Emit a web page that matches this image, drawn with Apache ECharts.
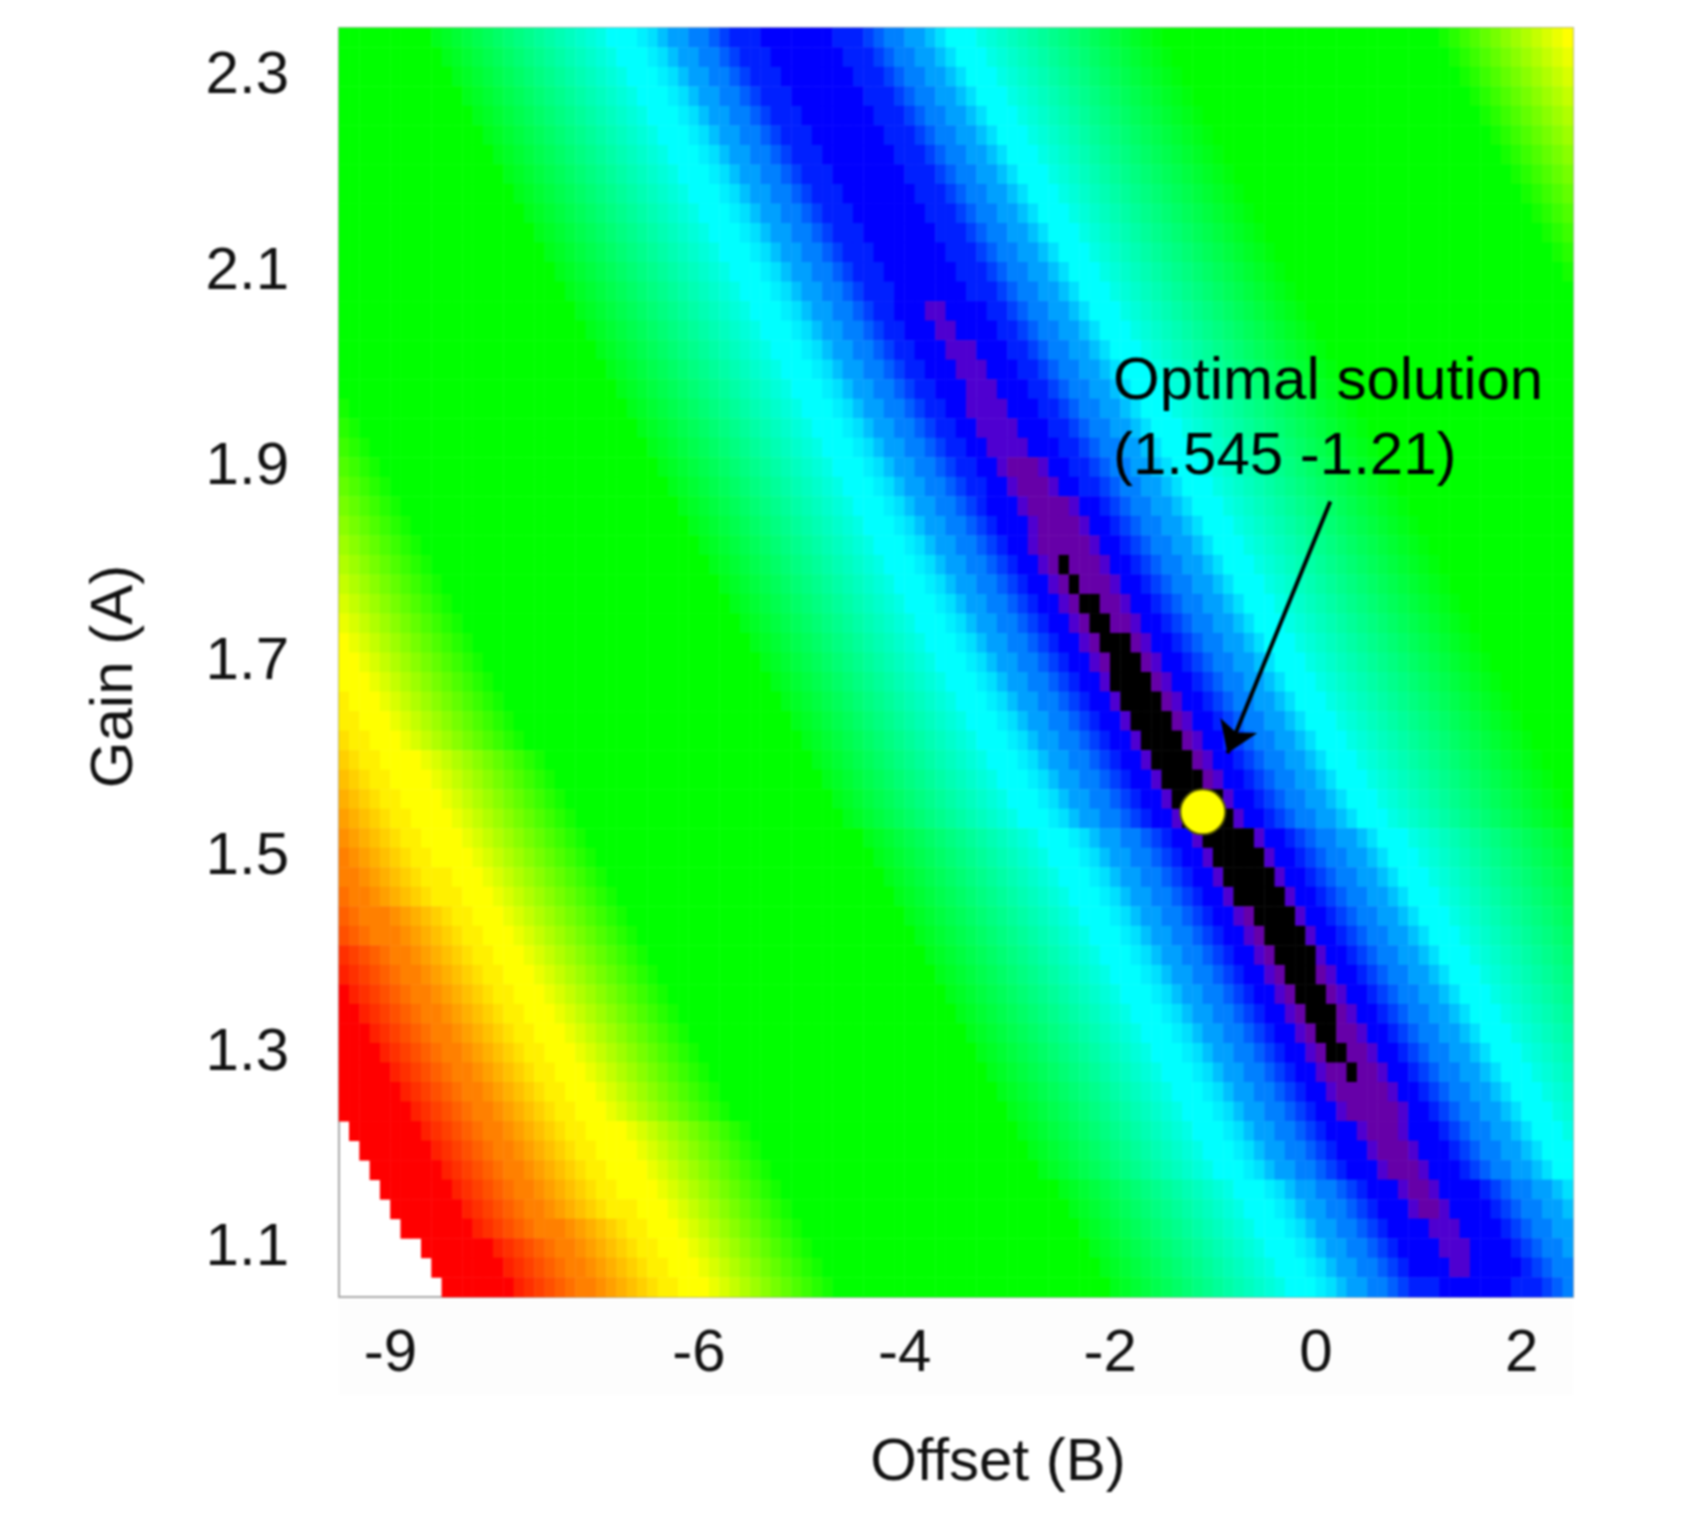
<!DOCTYPE html>
<html>
<head>
<meta charset="utf-8">
<title>Gain / Offset map</title>
<script src="https://cdn.jsdelivr.net/npm/echarts@6/dist/echarts.min.js"></script>
<style>
  html, body { margin: 0; padding: 0; background: #fff; }
  /* the source picture is a soft upscale */
  #chart { width: 1691px; height: 1534px; filter: blur(0.8px); }
</style>
</head>
<body>
<div id="chart"></div>
<script>
// tick labels
const offsetTicks = [-9, -6, -4, -2, 0, 2];
const gainTicks = [1.1, 1.3, 1.5, 1.7, 1.9, 2.1, 2.3];

// cell centres
const offsets = [
  -9.45,-9.35,-9.25,-9.15,-9.05,-8.95,-8.85,-8.75,-8.65,-8.55,-8.45,-8.35,-8.25,-8.15,-8.05,
  -7.95,-7.85,-7.75,-7.65,-7.55,-7.45,-7.35,-7.25,-7.15,-7.05,-6.95,-6.85,-6.75,-6.65,-6.55,
  -6.45,-6.35,-6.25,-6.15,-6.05,-5.95,-5.85,-5.75,-5.65,-5.55,-5.45,-5.35,-5.25,-5.15,-5.05,
  -4.95,-4.85,-4.75,-4.65,-4.55,-4.45,-4.35,-4.25,-4.15,-4.05,-3.95,-3.85,-3.75,-3.65,-3.55,
  -3.45,-3.35,-3.25,-3.15,-3.05,-2.95,-2.85,-2.75,-2.65,-2.55,-2.45,-2.35,-2.25,-2.15,-2.05,
  -1.95,-1.85,-1.75,-1.65,-1.55,-1.45,-1.35,-1.25,-1.15,-1.05,-0.95,-0.85,-0.75,-0.65,-0.55,
  -0.45,-0.35,-0.25,-0.15,-0.05,0.05,0.15,0.25,0.35,0.45,0.55,0.65,0.75,0.85,0.95,
  1.05,1.15,1.25,1.35,1.45,1.55,1.65,1.75,1.85,1.95,2.05,2.15,2.25,2.35,2.45
];
const gains = [
  2.34,2.32,2.30,2.28,2.26,2.24,2.22,2.20,2.18,2.16,2.14,2.12,2.10,2.08,2.06,2.04,2.02,2.00,1.98,1.96,
  1.94,1.92,1.90,1.88,1.86,1.84,1.82,1.80,1.78,1.76,1.74,1.72,1.70,1.68,1.66,1.64,1.62,1.60,1.58,1.56,
  1.54,1.52,1.50,1.48,1.46,1.44,1.42,1.40,1.38,1.36,1.34,1.32,1.30,1.28,1.26,1.24,1.22,1.20,1.18,1.16,
  1.14,1.12,1.10,1.08,1.06
];

// level symbols, low to high, and the colour of each
const levels = 'KPVabcdefghijJkLlMmNnOoQpRqSrTsUtuαvβwγxδyεzζAηBθCιDκEλFμGνHξI';
const levelColors = [
  '#000000','#6600a8','#4f00d0',
  '#0000ff','#0020ff','#0040ff','#0060ff','#0080ff','#00a0ff','#00c0ff','#00e0ff','#00f0ff','#00ffff',
  '#00fff2','#00ffe6','#00ffd9','#00ffcc','#00ffbf','#00ffb3','#00ffa6','#00ff99','#00ff8c','#00ff80',
  '#00ff73','#00ff66','#00ff59','#00ff4d','#00ff40','#00ff33','#00ff26','#00ff1a','#00ff0d','#00ff00',
  '#14ff00','#27ff00','#3bff00','#4eff00','#62ff00','#75ff00','#89ff00','#9dff00','#b0ff00','#c4ff00','#d8ff00','#ebff00',
  '#ffff00','#fff000','#ffe000','#ffd000','#ffc000','#ffb000','#ffa000','#ff9000','#ff8000','#ff7000',
  '#ff6000','#ff5000','#ff4000','#ff3000','#ff2000','#ff1000','#ff0000'
];

// map cells, top row first. symbol = level, number after it = repeat, '.' = no colour
const mapRows = [
  't9sTrSqRpQoOnNmMlLkj3ihgffeedcbbba7bbbcdeeffghj3kLlMmNnOoQpRqSrTsUt27uαvβwγxδyεzζA3',
  't10sTrSqRpQoOnNmMlLkj3ihgffeedcbbba7bbbcdeeffghj3kLlMmNnOoQpRqSrTsUt27uαvβwγxδyεzζA3',
  't11sTrSqRpQoOnNmMlLkj3ihgffeedcbbba7bbbcdeeffghj3kLlMmNnOoQpRqSrTsUt27uαvβwγxδyεzζA3',
  't12sTrSqRpQoOnNmMlLkj3ihgffeedcbbba7bbbcdeeffghj3kLlMmNnOoQpRqSrTsUt27uαvβwγxδyεzζA3',
  't13sTrSqRpQoOnNmMlLkj3ihgffeedcbbba7bbbcdeeffghj3kLlMmNnOoQpRqSrTsUt27uαvβwγxδyεzζA3',
  't14sTrSqRpQoOnNmMlLkj3ihgffeedcbbba7bbbcdeeffghj3kLlMmNnOoQpRqSrTsUt27uαvβwγxδyεzζA3',
  't15sTrSqRpQoOnNmMlLkj3ihgffeedcbbba7bbbcdeeffghj3kLlMmNnOoQpRqSrTsUt27uαvβwγxδyεzζA3',
  't16sTrSqRpQoOnNmMlLkj3ihgffeedcbbba7bbbcdeeffghj3kLlMmNnOoQpRqSrTsUt27uαvβwγxδyεzζA3',
  't17sTrSqRpQoOnNmMlLkj3ihgffeedcbbba7bbbcdeeffghj3kLlMmNnOoQpRqSrTsUt27uαvβwγxδyεzζA3',
  't18sTrSqRpQoOnNmMlLkj3ihgffeedcbbba7bbbcdeeffghj3kLlMmNnOoQpRqSrTsUt27uαvβwγxδyεzζA3',
  't19sTrSqRpQoOnNmMlLkj3ihgffeedcbbba7bbbcdeeffghj3kLlMmNnOoQpRqSrTsUt27uαvβwγxδyεzζA3',
  't20sTrSqRpQoOnNmMlLkj3ihgffeedcbbba7bbbcdeeffghj3kLlMmNnOoQpRqSrTsUt27uαvβwγxδyεzζA3',
  't21sTrSqRpQoOnNmMlLkj3ihgffeedcbbba7bbbcdeeffghj3kLlMmNnOoQpRqSrTsUt27uαvβwγxδyεzζA3',
  't22sTrSqRpQoOnNmMlLkj3ihgffeedcbbba7bbbcdeeffghj3kLlMmNnOoQpRqSrTsUt27uαvβwγxδyεzζA3',
  't23sTrSqRpQoOnNmMlLkj3ihgffeedcbba3VVa4bbcdeeffghj3kLlMmNnOoQpRqSrTsUt27uαvβwγxδyεzζA3',
  't24sTrSqRpQoOnNmMlLkj3ihgffeedcbba3VVa4bbcdeeffghj3kLlMmNnOoQpRqSrTsUt27',
  't25sTrSqRpQoOnNmMlLkj3ihgffeedcbba3VVVa3bbcdeeffghj3kLlMmNnOoQpRqSrTsUt27',
  't26sTrSqRpQoOnNmMlLkj3ihgffeedcbba3VVVa3bbcdeeffghj3kLlMmNnOoQpRqSrTsUt27',
  't27sTrSqRpQoOnNmMlLkj3ihgffeedcbba3VVVa3bbcdeeffghj3kLlMmNnOoQpRqSrTsUt27',
  'ut27sTrSqRpQoOnNmMlLkj3ihgffeedcbbaaVVVVa3bbcdeeffghj3kLlMmNnOoQpRqSrTsUt27',
  'αut27sTrSqRpQoOnNmMlLkj3ihgffeedcbbaaVVVVa3bbcdeeffghj3kLlMmNnOoQpRqSrTsUt27',
  'vαut27sTrSqRpQoOnNmMlLkj3ihgffeedcbbaaVVVVa3bbcdeeffghj3kLlMmNnOoQpRqSrTsUt27',
  'βvαut27sTrSqRpQoOnNmMlLkj3ihgffeedcbbaaVPPPVaabbcdeeffghj3kLlMmNnOoQpRqSrTsUt27',
  'wβvαut27sTrSqRpQoOnNmMlLkj3ihgffeedcbbaaVPPPVaabbcdeeffghj3kLlMmNnOoQpRqSrTsUt27',
  'γwβvαut27sTrSqRpQoOnNmMlLkj3ihgffeedcbaaaVPPPPVaabcdeeffghj3kLlMmNnOoQpRqSrTsUt27',
  'xγwβvαut27sTrSqRpQoOnNmMlLkj3ihgffeedcbaaaVPPPPVaabcdeeffghj3kLlMmNnOoQpRqSrTsUt27',
  'δxγwβvαut27sTrSqRpQoOnNmMlLkj3ihgffeedcbaaVP5Vaabcdeeffghj3kLlMmNnOoQpRqSrTsUt27',
  'yδxγwβvαut27sTrSqRpQoOnNmMlLkj3ihgffeedcbaaVPKP3Vaabcdeeffghj3kLlMmNnOoQpRqSrTsUt27',
  'εyδxγwβvαut27sTrSqRpQoOnNmMlLkj3ihgffeedcbaaVPKP3Vaabcdeeffghj3kLlMmNnOoQpRqSrTsUt27',
  'zεyδxγwβvαut27sTrSqRpQoOnNmMlLkj3ihgffeedcbaaVPKKPPVaabcdeeffghj3kLlMmNnOoQpRqSrTsUt27',
  'ζzεyδxγwβvαut27sTrSqRpQoOnNmMlLkj3ihgffeedcbaaVPKKPPVaabcdeeffghj3kLlMmNnOoQpRqSrTsUt27',
  'Aζzεyδxγwβvαut27sTrSqRpQoOnNmMlLkj3ihgffeedcbaaVPKKKPVaabcdeeffghj3kLlMmNnOoQpRqSrTsUt27',
  'AAζzεyδxγwβvαut27sTrSqRpQoOnNmMlLkj3ihgffeedcbaaVPKKKPVaabcdeeffghj3kLlMmNnOoQpRqSrTsUt27',
  'A3ζzεyδxγwβvαut27sTrSqRpQoOnNmMlLkj3ihgffeedcbaaVKKKKPVaabcdeeffghj3kLlMmNnOoQpRqSrTsUt27',
  'ηA3ζzεyδxγwβvαut27sTrSqRpQoOnNmMlLkj3ihgffeedcbaaVKKKKPVaabcdeeffghj3kLlMmNnOoQpRqSrTsUt27',
  'ηηA3ζzεyδxγwβvαut27sTrSqRpQoOnNmMlLkj3ihgffeedcbaaVKKKKPVaabcdeeffghj3kLlMmNnOoQpRqSrTsUt27',
  'BηηA3ζzεyδxγwβvαut27sTrSqRpQoOnNmMlLkj3ihgffeedcbaaVKKKKPVaabcdeeffghj3kLlMmNnOoQpRqSrTsUt27',
  'θBηηA4ζzεyδxγwβvαut26sTrSqRpQoOnNmMlLkj3ihgffeedcbaaVKKKKPVaabcdeeffghj3kLlMmNnOoQpRqSrTsUt27',
  'CθBηηA4ζzεyδxγwβvαut26sTrSqRpQoOnNmMlLkj3ihgffeedcbaaVKKKKPVaabcdeeffghj3kLlMmNnOoQpRqSrTsUt27',
  'ιCθBηηA4ζzεyδxγwβvαut26sTrSqRpQoOnNmMlLkj3ihgffeedcbaaVK5Vaabcdeeffghj3kLlMmNnOoQpRqSrTsUt27',
  'DιCθBηηA4ζzεyδxγwβvαut26sTrSqRpQoOnNmMlLkj3ihgffeedcbaaVK5Vaabcdeeffghj3kLlMmNnOoQpRqSrTsUt27',
  'κDιCθBηηA4ζzεyδxγwβvαut27sTrSqRpQoOnNmMlLkj3ihgffeedcbaaVK5Vaabcdeeffghj3kLlMmNnOoQpRqSrTsU',
  'EκDιCθBηηA4ζzεyδxγwβvαut27sTrSqRpQoOnNmMlLkj3ihgffeedcbaaVK5Vaabcdeeffghj3kLlMmNnOoQpRqSrTsU',
  'EEκDιCθBηηηA3ζzεyδxγwβvαut27sTrSqRpQoOnNmMlLkj3ihgffeedcbaaVK5Vaabcdeeffghj3kLlMmNnOoQpRqSrTsU',
  'λEEκDιCθBηηηA3ζzεyδxγwβvαut27sTrSqRpQoOnNmMlLkj3ihgffeedcbaaVK5Vaabcdeeffghj3kLlMmNnOoQpRqSrTsU',
  'FλEEEκDιCθBηηA3ζzεyδxγwβvαut27sTrSqRpQoOnNmMlLkj3ihgffeedcbaaVPKKKKVaabcdeeffghj3kLlMmNnOoQpRqSrTsU',
  'μFλEEEκDιCθBηηA3ζzεyδxγwβvαut27sTrSqRpQoOnNmMlLkj3ihgffeedcbaaVPKKKKVaabcdeeffghj3kLlMmNnOoQpRqSrTsU',
  'νGμFλEEκDιCθBηηA3ζzεyδxγwβvαut27sTrSqRpQoOnNmMlLkj3ihgffeedcbaaVPKKKKVaabcdeeffghj3kLlMmNnOoQpRqSrTsU',
  'HνGμFλEEκDιCθBηηA3ζzεyδxγwβvαut27sTrSqRpQoOnNmMlLkj3ihgffeedcbaaVPKKKPVaabcdeeffghj3kLlMmNnOoQpRqSrTsU',
  'IHνGμFλEEκDιCθBηηA3ζzεyδxγwβvαut27sTrSqRpQoOnNmMlLkj3ihgffeedcbaaVPKKKPVaabcdeeffghj3kLlMmNnOoQpRqSrTsU',
  'IIHνGμFλEEκDιCθBηηA3ζzεyδxγwβvαut27sTrSqRpQoOnNmMlLkj3ihgffeedcbaaVPKKKPVaabcdeeffghj3kLlMmNnOoQpRqSrTsU',
  'I3HνGμFλEEκDιCθBηηA3ζzεyδxγwβvαut27sTrSqRpQoOnNmMlLkj3ihgffeedcbaaVPKKPPVaabcdeeffghj3kLlMmNnOoQpRqSrTsU',
  'I4HνGμFλEEκDιCθBηηA3ζzεyδxγwβvαut27sTrSqRpQoOnNmMlLkj3ihgffeedcbaaVPKKPPVaabcdeeffghj3kLlMmNnOo',
  'I5HνGμFλEEκDιCθBηηA3ζzεyδxγwβvαut27sTrSqRpQoOnNmMlLkj3ihgffeedcbaaVPPKPPVaabcdeeffghj3kLlMmNnOo',
  'I6HνGμFλEEκDιCθBηηA3ζzεyδxγwβvαut27sTrSqRpQoOnNmMlLkj3ihgffeedcbaaVP5Vaabcdeeffghj3kLlMmNnOo',
  'I7HνGμFλEEκDιCθBηηA3ζzεyδxγwβvαut27sTrSqRpQoOnNmMlLkj3ihgffeedcbaaVP5Vaabcdeeffghj3kLlMmNnOo',
  '.I7HνGμFλEEκDιCθBηηA4ζzεyδxγwβvαut26sTrSqRpQoOnNmMlLkj3ihgffeedcba3VP3Va3bcdeeffghj3kLlMmNnOo',
  '.2I7HνGμFλEEκDιCθBηηA4ζzεyδxγwβvαut26sTrSqRpQoOnNmMlLkj3ihgffeedcba3VP3Va3bcdeeffghj3kLlMmNnOo',
  '.3I7HνGμFλEEκDιCθBηηA4ζzεyδxγwβvαut26sTrSqRpQoOnNmMlLkj3ihgffeedcba3VP3Va3bcdeeffghj3kLl',
  '.4I7HνGμFλEEκDιCθBηηA4ζzεyδxγwβvαut27sTrSqRpQoOnNmMlLkj3ihgffeedcba3VPPVa4bcdeeffghj3kLl',
  '.5I7HνGμFλEEκDιCθBηηηA3ζzεyδxγwβvαut27sTrSqRpQoOnNmMlLkj3ihgffeedcba3VPPVa4bcdeeffghj3kLl',
  '.6I7HνGμFλEEEκDιCθBηηA3ζzεyδxγwβvαut27sTrSqRpQoOnNmMlLkj3ihgffeedcba4VVVa4bcdeeffghj3kLl',
  '.8I7HνGμFλEEκDιCθBηηA3ζzεyδxγwβvαut27sTrSqRpQoOnNmMlLkj3ihgffeedcba4VVVa4bcdeeffghj3kLl',
  '.9I7HνGμFλEEκDιCθBηηA3ζzεyδxγwβvαut27sTrSqRpQoOnNmMlLkj3ihgffeedcba4VVa5bcdeeffghj3kLl',
  '.10I7HνGμFλEEκDιCθBηηA3ζzεyδxγwβvαut27sTrSqRpQoOnNmMlLkj3ihgffeedcbbba7bbbcdeeffghj3kLl'
];

// marked optimum as drawn on the map, and the arrow pointing at it
const optimum = [-1.1, 1.547];
const arrowFrom = [0.14, 1.865];
const arrowTo = [-0.86, 1.607];

const fontName = '"Liberation Sans", Arial, sans-serif';

function expandRow(str) {
  const out = [];
  str.replace(/(\D)(\d*)/g, (m, ch, n) => {
    for (let i = 0; i < (n ? +n : 1); i++) out.push(ch);
    return m;
  });
  return out.slice(0, offsets.length);
}

const cells = [];
mapRows.forEach((str, y) => {
  expandRow(str).forEach((ch, x) => {
    if (ch !== '.') cells.push([x, y, levels.indexOf(ch)]);
  });
});

const chart = echarts.init(document.getElementById('chart'), null, { renderer: 'canvas' });

chart.setOption({
  animation: false,
  backgroundColor: '#fff',
  grid: {
    left: 339, top: 28, width: 1234, height: 1269,
    show: true, borderColor: '#a8a8a8', borderWidth: 2, backgroundColor: '#fff'
  },
  visualMap: {
    type: 'piecewise',
    show: false,
    seriesIndex: 0,
    dimension: 2,
    pieces: levelColors.map((color, value) => ({ value, color }))
  },
  xAxis: [
    { type: 'category', data: offsets, show: false, boundaryGap: true },
    {
      type: 'value', min: -9.5, max: 2.5, position: 'bottom',
      name: 'Offset (B)', nameLocation: 'middle', nameGap: 136,
      nameTextStyle: { fontFamily: fontName, fontSize: 60, color: '#111', padding: [0, 0, 0, 84] },
      axisLine: { show: false }, axisTick: { show: false }, splitLine: { show: false },
      axisLabel: {
        customValues: offsetTicks, margin: 27,
        fontFamily: fontName, fontSize: 60, color: '#111'
      }
    }
  ],
  yAxis: [
    { type: 'category', data: gains, inverse: true, show: false, boundaryGap: true },
    {
      type: 'value', min: 1.05, max: 2.35, position: 'left',
      name: 'Gain (A)', nameLocation: 'middle', nameGap: 194,
      nameTextStyle: { fontFamily: fontName, fontSize: 60, color: '#111', padding: [0, 28, 0, 0] },
      axisLine: { show: false }, axisTick: { show: false }, splitLine: { show: false },
      axisLabel: {
        customValues: gainTicks, margin: 50, formatter: (v) => v.toFixed(1),
        fontFamily: fontName, fontSize: 60, color: '#111'
      }
    }
  ],
  series: [
    {
      type: 'heatmap',
      xAxisIndex: 0, yAxisIndex: 0,
      data: cells,
      progressive: 0,
      itemStyle: { borderWidth: 0 },
      emphasis: { disabled: true }
    },
    {
      type: 'scatter',
      xAxisIndex: 1, yAxisIndex: 1,
      z: 5,
      data: [optimum],
      symbolSize: 45,
      itemStyle: { color: '#ffff00', borderColor: '#5c5c00', borderWidth: 2, opacity: 1 },
      markLine: {
        silent: true,
        symbol: ['none', 'arrow'],
        symbolSize: 30,
        label: { show: false },
        lineStyle: { color: '#000', width: 4, type: 'solid' },
        data: [[{ coord: arrowFrom }, { coord: arrowTo }]]
      }
    }
  ],
  graphic: [
    {
      type: 'rect', left: 339, top: 1300, z: -1,
      shape: { width: 1234, height: 95 },
      style: { fill: '#fdfdfd' }
    },
    {
      type: 'text', left: 1113, top: 352, z: 10,
      style: { text: 'Optimal solution', fontFamily: fontName, fontSize: 60, fill: '#000' }
    },
    {
      type: 'text', left: 1113, top: 427, z: 10,
      style: { text: '(1.545 -1.21)', fontFamily: fontName, fontSize: 60, fill: '#000' }
    }
  ]
});
</script>
</body>
</html>
